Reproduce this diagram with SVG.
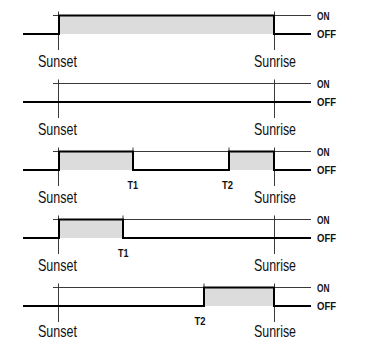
<svg xmlns="http://www.w3.org/2000/svg" width="366" height="340" viewBox="0 0 366 340">
<style>
.fill{fill:#dcdcdc;stroke:none}
.thin{stroke:#3a3a3a;stroke-width:1;fill:none}
.thick{stroke:#000;stroke-width:2;fill:none;stroke-linejoin:miter}
.lbl{font-family:"Liberation Sans",Arial,sans-serif;font-size:16.5px;fill:#111}
.st{font-family:"Liberation Sans",Arial,sans-serif;font-size:11px;font-weight:bold;fill:#111}
</style>
<rect width="366" height="340" fill="#fff"/>
<g id="panel1">
<rect class="fill" x="59" y="15.5" width="215" height="18.5"/>
<path class="thin" d="M53,15.5H311M58.5,11.5V50M274.5,11.5V50"/>
<path class="thick" d="M23,34H59V15.5H274V34H311"/>
<text class="lbl" x="38" y="67" textLength="39" lengthAdjust="spacingAndGlyphs">Sunset</text>
<text class="lbl" x="254" y="67" textLength="42" lengthAdjust="spacingAndGlyphs">Sunrise</text>
<text class="st" x="317" y="19.5" textLength="12.5" lengthAdjust="spacingAndGlyphs">ON</text>
<text class="st" x="317" y="38" textLength="19" lengthAdjust="spacingAndGlyphs">OFF</text>
</g>
<g id="panel2">
<path class="thin" d="M53,83.5H311M58.5,79.5V118M274.5,79.5V118"/>
<path class="thick" d="M23,102H311"/>
<text class="lbl" x="38" y="135" textLength="39" lengthAdjust="spacingAndGlyphs">Sunset</text>
<text class="lbl" x="254" y="135" textLength="42" lengthAdjust="spacingAndGlyphs">Sunrise</text>
<text class="st" x="317" y="87.5" textLength="12.5" lengthAdjust="spacingAndGlyphs">ON</text>
<text class="st" x="317" y="106" textLength="19" lengthAdjust="spacingAndGlyphs">OFF</text>
</g>
<g id="panel3">
<rect class="fill" x="59" y="151.5" width="74" height="18.5"/>
<rect class="fill" x="229" y="151.5" width="45" height="18.5"/>
<path class="thin" d="M53,151.5H311M58.5,147.5V186M274.5,147.5V186M133,147.5V170M229,147.5V170"/>
<path class="thick" d="M23,170H59V151.5H133V170H229V151.5H274V170H311"/>
<text class="lbl" x="38" y="203" textLength="39" lengthAdjust="spacingAndGlyphs">Sunset</text>
<text class="lbl" x="254" y="203" textLength="42" lengthAdjust="spacingAndGlyphs">Sunrise</text>
<text class="st" x="127.5" y="188.5" textLength="10.5" lengthAdjust="spacingAndGlyphs">T1</text>
<text class="st" x="222" y="188.5" textLength="11" lengthAdjust="spacingAndGlyphs">T2</text>
<text class="st" x="317" y="155.5" textLength="12.5" lengthAdjust="spacingAndGlyphs">ON</text>
<text class="st" x="317" y="174" textLength="19" lengthAdjust="spacingAndGlyphs">OFF</text>
</g>
<g id="panel4">
<rect class="fill" x="59" y="219.5" width="64" height="18.5"/>
<path class="thin" d="M53,219.5H311M58.5,215.5V254M274.5,215.5V254M123,215.5V238"/>
<path class="thick" d="M23,238H59V219.5H123V238H311"/>
<text class="lbl" x="38" y="271" textLength="39" lengthAdjust="spacingAndGlyphs">Sunset</text>
<text class="lbl" x="254" y="271" textLength="42" lengthAdjust="spacingAndGlyphs">Sunrise</text>
<text class="st" x="118" y="256.5" textLength="10.5" lengthAdjust="spacingAndGlyphs">T1</text>
<text class="st" x="317" y="223.5" textLength="12.5" lengthAdjust="spacingAndGlyphs">ON</text>
<text class="st" x="317" y="242" textLength="19" lengthAdjust="spacingAndGlyphs">OFF</text>
</g>
<g id="panel5">
<rect class="fill" x="204" y="287.5" width="70" height="18.5"/>
<path class="thin" d="M53,287.5H311M58.5,283.5V322M274.5,283.5V322M204,283.5V306"/>
<path class="thick" d="M23,306H204V287.5H274V306H311"/>
<text class="lbl" x="38" y="336.5" textLength="39" lengthAdjust="spacingAndGlyphs">Sunset</text>
<text class="lbl" x="254" y="336.5" textLength="42" lengthAdjust="spacingAndGlyphs">Sunrise</text>
<text class="st" x="194.5" y="324.5" textLength="11" lengthAdjust="spacingAndGlyphs">T2</text>
<text class="st" x="317" y="291.5" textLength="12.5" lengthAdjust="spacingAndGlyphs">ON</text>
<text class="st" x="317" y="310" textLength="19" lengthAdjust="spacingAndGlyphs">OFF</text>
</g>
</svg>
